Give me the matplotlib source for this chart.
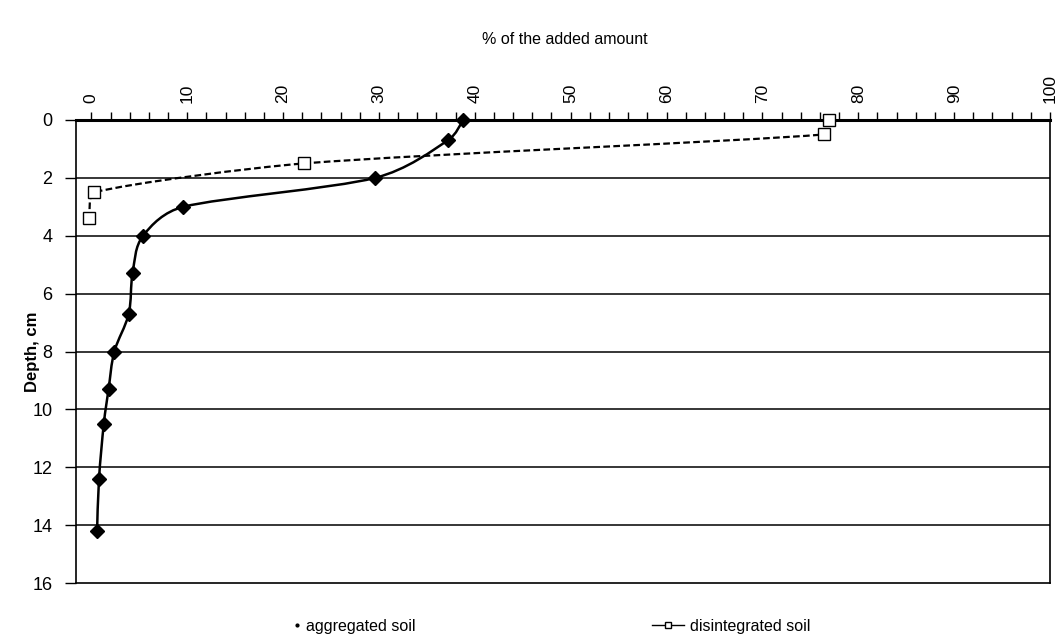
import numpy as np
import matplotlib
matplotlib.use("Agg")
import matplotlib.pyplot as plt
from matplotlib.path import Path
from matplotlib.patches import PathPatch
from matplotlib.lines import Line2D

plt.rcParams['font.family'] = ['Liberation Sans', 'DejaVu Sans']

# data
agg_pct = [38.8, 37.2, 29.6, 9.6, 5.4, 4.3, 3.9, 2.4, 1.8, 1.3, 0.8, 0.6]
agg_depth = [0.0, 0.7, 2.0, 3.0, 4.0, 5.3, 6.7, 8.0, 9.3, 10.5, 12.4, 14.2]
dis_pct = [76.9, 76.4, 22.2, 0.3, -0.2]
dis_depth = [0.0, 0.5, 1.5, 2.5, 3.4]

x_ticks = list(range(0, 101, 10))
y_ticks = list(range(0, 17, 2))

# rough px per unit, only used to keep the smoothing isotropic
SX, SY = 9.56, 29.0


def smooth_path(xs, ys, maxfrac=0.4):
    # smoothed line like excel (catmull-rom bezier, handles capped)
    pts = np.column_stack([np.array(xs) * SX, np.array(ys) * SY]).astype(float)
    p = np.vstack([pts[0], pts, pts[-1]])
    verts = [pts[0]]
    codes = [Path.MOVETO]
    for i in range(1, len(p) - 2):
        seg = np.linalg.norm(p[i + 1] - p[i])
        t1 = (p[i + 1] - p[i - 1]) / 6.0
        t2 = (p[i + 2] - p[i]) / 6.0
        for t in (t1, t2):
            n = np.linalg.norm(t)
            if n > maxfrac * seg:
                t *= maxfrac * seg / n
        verts += [p[i] + t1, p[i + 1] - t2, p[i + 1]]
        codes += [Path.CURVE4] * 3
    verts = np.array(verts) / [SX, SY]
    return Path(verts, codes)


fig = plt.figure(figsize=(10.59, 6.34), dpi=100)
ax = fig.add_axes([76 / 1059, 1 - 583 / 634, (1050 - 76) / 1059, (583 - 120) / 634])

ax.set_xlim(-1.6, 100)
ax.set_ylim(16, 0)

# gridlines
for yv in y_ticks[1:-1]:
    ax.axhline(yv, color='black', lw=1.1, zorder=1)

# smoothed lines
ax.add_patch(PathPatch(smooth_path(agg_pct, agg_depth), fill=False,
                       edgecolor='black', lw=1.8, zorder=3))
ax.add_patch(PathPatch(smooth_path(dis_pct, dis_depth, 0.25), fill=False,
                       edgecolor='black', lw=1.6, linestyle=(0, (3, 1.5)), zorder=3))

ax.plot(agg_pct, agg_depth, linestyle='none', marker='D', ms=7,
        color='black', zorder=4, clip_on=False)
ax.plot(dis_pct, dis_depth, linestyle='none', marker='s', ms=9,
        markerfacecolor='white', markeredgecolor='black', mew=1.0, zorder=5,
        clip_on=False)

# top axis
ax.xaxis.tick_top()
ax.set_xticks(x_ticks)
ax.set_xticks(np.arange(0, 101, 2), minor=True)
ax.tick_params(axis='x', which='both', direction='out', length=6, width=1,
               labelsize=12.5, labelrotation=90, pad=6, colors='black')
ax.set_yticks(y_ticks)
ax.tick_params(axis='y', direction='out', length=8, width=1, labelsize=13, pad=9)
ax.tick_params(axis='y', which='minor', left=False)

ax.spines['top'].set_linewidth(2.2)
for s in ['left', 'right', 'bottom']:
    ax.spines[s].set_linewidth(1.2)

ax.set_ylabel('Depth, cm', fontsize=12, fontweight='bold')
ax.yaxis.set_label_coords(-0.037, 0.5)
fig.text(565 / 1059, 1 - 40 / 634, '% of the added amount', ha='center',
         va='center', fontsize=11.5)

# legend at the bottom
h1 = Line2D([], [], linestyle='none', marker='.', ms=4, color='black')
h2 = Line2D([], [], linestyle='-', lw=1, marker='s', ms=4,
            markerfacecolor='white', markeredgecolor='black', color='black')
fig.legend([h1], ['aggregated soil'], loc='center left',
           bbox_to_anchor=(292 / 1059, 1 - 626 / 634), frameon=False,
           handlelength=0.6, handletextpad=0.3, fontsize=11.5,
           borderaxespad=0, borderpad=0)
fig.legend([h2], ['disintegrated soil'], loc='center left',
           bbox_to_anchor=(652 / 1059, 1 - 626 / 634), frameon=False,
           handlelength=2.0, handletextpad=0.4, fontsize=11.5,
           borderaxespad=0, borderpad=0)

fig.savefig('out.png', dpi=100)
